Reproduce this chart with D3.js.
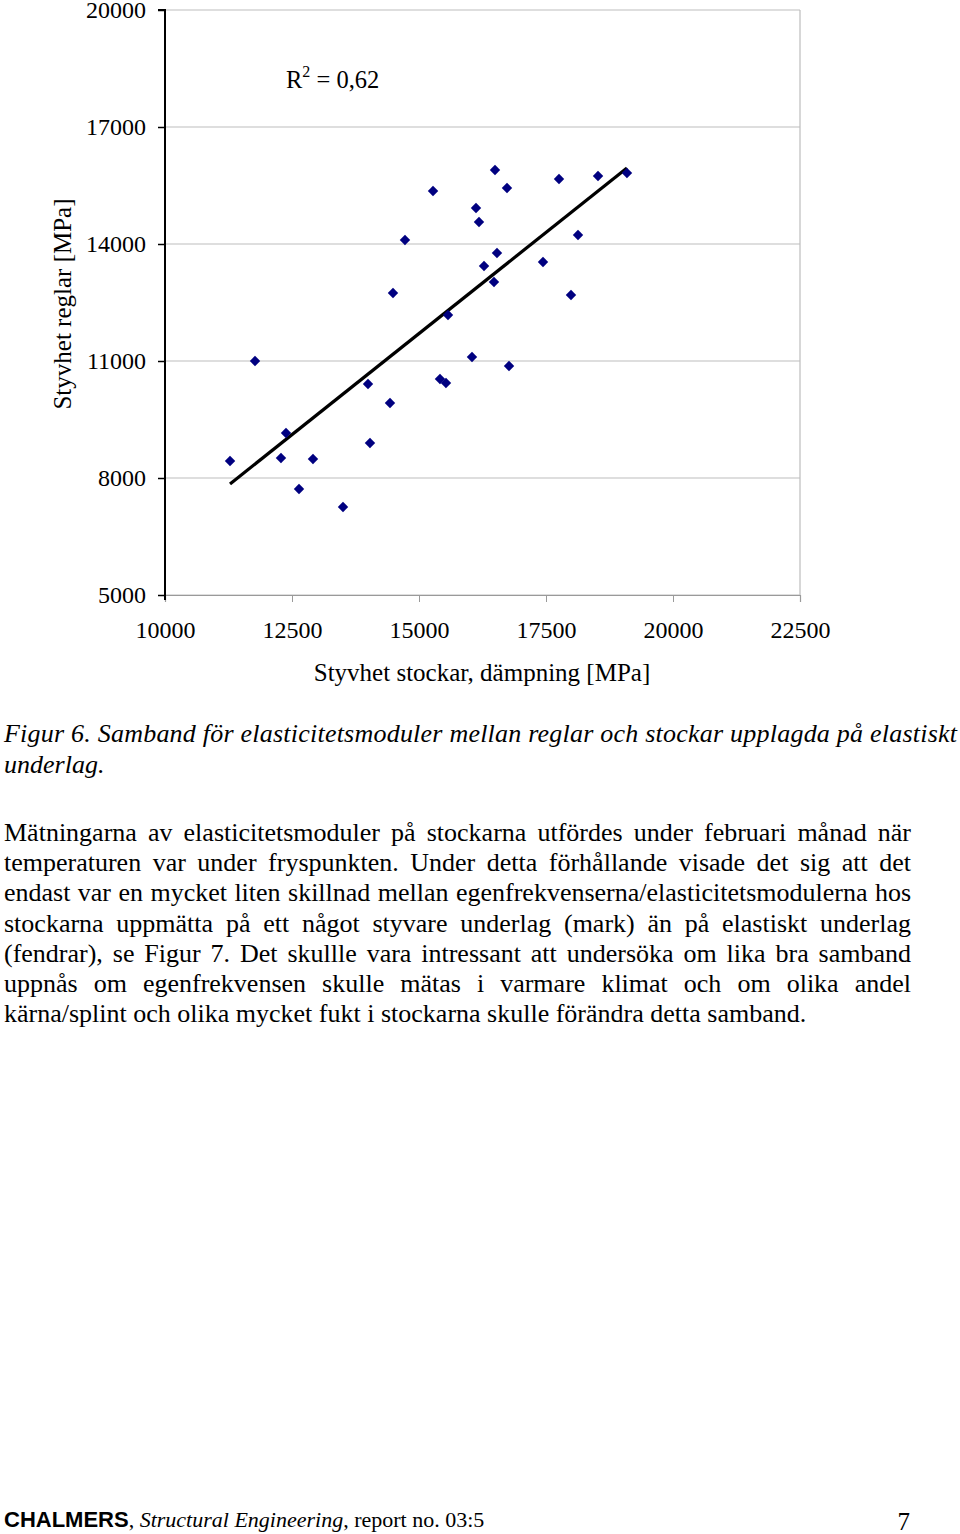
<!DOCTYPE html>
<html><head><meta charset="utf-8">
<script src="https://cdn.jsdelivr.net/npm/d3@7"></script>
<style>
body{margin:0;background:#fff;}
svg{display:block;}
</style></head>
<body>
<svg id="c" width="960" height="1534"></svg>
<script>
// ---- data ----
const stockar = [11280,11772,12283,12382,12638,12913,13504,13996,14035,14429,14488,14724,15276,15413,15531,15571,16043,16122,16181,16280,16476,16496,16535,16732,16772,17441,17756,17992,18130,18524,19094];
const reglar  = [8436,11000,8513,9154,7718,8487,7257,10411,8898,9923,12744,14103,15359,10539,10437,12180,11103,14923,14564,13436,13026,15898,13769,15436,10872,13539,15667,12692,14231,15744,15821];
const trendX = [11280, 19094];
const trendY = [7847, 15949];
const xTicks = [10000,12500,15000,17500,20000,22500];
const yTicks = [5000,8000,11000,14000,17000,20000];
const xTitle = "Styvhet stockar, dämpning [MPa]";
const yTitle = "Styvhet reglar [MPa]";
const r2Text = "0,62";
const captionLines = ["Figur 6. Samband för elasticitetsmoduler mellan reglar och stockar upplagda på elastiskt","underlag."];
const paraLines = [
"Mätningarna av elasticitetsmoduler på stockarna utfördes under februari månad när",
"temperaturen var under fryspunkten. Under detta förhållande visade det sig att det",
"endast var en mycket liten skillnad mellan egenfrekvenserna/elasticitetsmodulerna hos",
"stockarna uppmätta på ett något styvare underlag (mark) än på elastiskt underlag",
"(fendrar), se Figur 7. Det skullle vara intressant att undersöka om lika bra samband",
"uppnås om egenfrekvensen skulle mätas i varmare klimat och om olika andel",
"kärna/splint och olika mycket fukt i stockarna skulle förändra detta samband."];

const svg = d3.select("#c");
const serif = "'Liberation Serif','Times New Roman',serif";
const L=165,R=800,T=10,B=595;
const x = d3.scaleLinear().domain([10000,22500]).range([L,R]);
const y = d3.scaleLinear().domain([5000,20000]).range([B,T]);

// gridlines
svg.append("g").selectAll("line").data(yTicks).join("line")
  .attr("x1",L).attr("x2",R).attr("y1",d=>y(d)).attr("y2",d=>y(d))
  .attr("stroke","#bdbdbd").attr("stroke-width",1.2);
svg.append("line").attr("x1",R).attr("x2",R).attr("y1",T).attr("y2",B)
  .attr("stroke","#bdbdbd").attr("stroke-width",1.2);

// x axis
const xa = svg.append("g").attr("transform",`translate(0,${B})`)
  .call(d3.axisBottom(x).tickValues(xTicks).tickSize(7).tickPadding(19).tickFormat(d3.format("d")));
xa.select(".domain").attr("stroke","#9a9a9a").attr("stroke-width",1.2);
xa.selectAll(".tick line").attr("stroke","#9a9a9a");
xa.selectAll("text").attr("font-family",serif).attr("font-size",24).attr("fill","#000");

// y axis
const ya = svg.append("g").attr("transform",`translate(${L},0)`)
  .call(d3.axisLeft(y).tickValues(yTicks).tickSize(7).tickPadding(12).tickFormat(d3.format("d")));
ya.select(".domain").attr("stroke","#000").attr("stroke-width",2).attr("d",`M-7,${T}H0V${B+5}`);
ya.selectAll(".tick line").attr("stroke","#000").attr("stroke-width",1.5);
ya.selectAll("text").attr("font-family",serif).attr("font-size",24).attr("fill","#000");

// trendline
svg.append("line").attr("x1",x(trendX[0])).attr("y1",y(trendY[0]))
  .attr("x2",x(trendX[1])).attr("y2",y(trendY[1]))
  .attr("stroke","#000").attr("stroke-width",3.2);

// points
const pts = stockar.map((d,i)=>({x:d,y:reglar[i]}));
svg.append("g").selectAll("path").data(pts).join("path")
  .attr("d","M0,-5.2L5.2,0L0,5.2L-5.2,0Z")
  .attr("transform",d=>`translate(${x(d.x)},${y(d.y)})`)
  .attr("fill","#000080");

// R2
const r2 = svg.append("text").attr("x",286).attr("y",88).attr("font-family",serif).attr("font-size",24.5);
r2.append("tspan").text("R");
r2.append("tspan").attr("dy",-11).attr("font-size",16).text("2");
r2.append("tspan").attr("dy",11).text(" = "+r2Text);

// axis titles
svg.append("text").attr("x",482).attr("y",681).attr("text-anchor","middle")
  .attr("font-family",serif).attr("font-size",25).text(xTitle);
svg.append("text").attr("transform","translate(71,304) rotate(-90)").attr("text-anchor","middle")
  .attr("font-family",serif).attr("font-size",25).text(yTitle);

// caption
svg.append("text").attr("x",4).attr("y",742).attr("font-family",serif).attr("font-style","italic")
  .attr("font-size",26).attr("textLength",953).attr("lengthAdjust","spacing").text(captionLines[0]);
svg.append("text").attr("x",4).attr("y",773).attr("font-family",serif).attr("font-style","italic")
  .attr("font-size",26).text(captionLines[1]);

// justified paragraph
const pLeft=4, pRight=911;
paraLines.forEach((line,i)=>{
  const by = 841 + i*30.2;
  const words = line.split(" ");
  const g = svg.append("g");
  const ts = words.map(w=>g.append("text").attr("font-family",serif).attr("font-size",26).attr("y",by).text(w));
  const widths = ts.map(t=>t.node().getComputedTextLength());
  const total = d3.sum(widths);
  const last = i===paraLines.length-1;
  const space = last ? 6.5 : (pRight-pLeft-total)/(words.length-1);
  let cx = pLeft;
  ts.forEach((t,j)=>{ t.attr("x",cx); cx += widths[j]+space; });
});

// footer
const f = svg.append("text").attr("x",4).attr("y",1527).attr("font-size",22);
f.append("tspan").attr("font-family","'Liberation Sans',Arial,sans-serif").attr("font-weight","bold").text("CHALMERS");
f.append("tspan").attr("font-family",serif).text(", ");
f.append("tspan").attr("font-family",serif).attr("font-style","italic").text("Structural Engineering");
f.append("tspan").attr("font-family",serif).text(", report no. 03:5");
svg.append("text").attr("x",910).attr("y",1530).attr("text-anchor","end").attr("font-family",serif)
  .attr("font-size",25).text("7");
</script>
</body></html>
